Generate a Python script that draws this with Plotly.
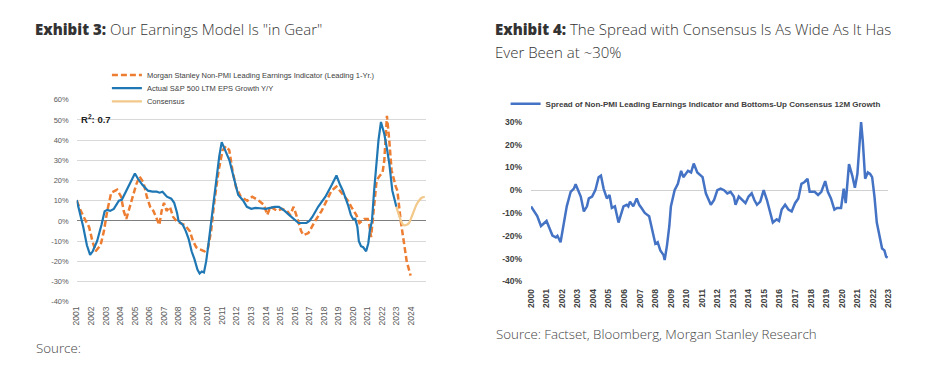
import plotly.graph_objects as go

W, H = 936, 373

# ---------------- Left chart data (Exhibit 3) ----------------
ms_years = [2001.0, 2001.28, 2001.62, 2001.85, 2002.08, 2002.3, 2002.64, 2002.87, 2003.1, 2003.37,
            2003.78, 2004.05, 2004.23, 2004.41, 2004.57, 2004.87, 2005.09, 2005.32, 2005.59, 2005.82,
            2006.05, 2006.27, 2006.5, 2006.68, 2006.84, 2007.0, 2007.18, 2007.41, 2007.63, 2007.86,
            2008.09, 2008.43, 2008.77, 2009.0, 2009.22, 2009.45, 2009.79, 2010.01, 2010.24, 2010.47,
            2010.76, 2011.03, 2011.26, 2011.49, 2011.71, 2011.94, 2012.28, 2012.73, 2013.07, 2013.53,
            2013.87, 2014.1, 2014.32, 2014.78, 2015.12, 2015.46, 2015.68, 2015.91, 2016.14, 2016.43,
            2016.59, 2016.93, 2017.16, 2017.39, 2017.84, 2018.18, 2018.52, 2018.86, 2019.2, 2019.65,
            2019.88, 2020.22, 2020.44, 2020.78, 2021.01, 2021.12, 2021.24, 2021.46, 2021.62, 2021.8,
            2022.03, 2022.15, 2022.33, 2022.49, 2022.65, 2022.94, 2023.05, 2023.28, 2023.46, 2023.69,
            2023.96]
ms_values = [10, 5, 0, -3, -10, -15, -12, -5, 5, 14,
             15.5, 12, 5, 1, 5, 12, 18, 22, 19, 12,
             7, 5, 1, -2, 5, 9, 5, 7, 2, 0,
             -1, -2, -5, -10, -13, -14, -15, -14, -5, 10,
             25, 35, 37, 35, 25, 17, 12, 10, 12, 10,
             8, 3, 7, 5, 6, 5, 3, 7, 2, -5,
             -7, -6, -3, 0, 5, 10, 15, 17, 14, 10,
             7, 3, -1, 1, 1, -2, -8, 10, 20, 22,
             24, 30, 52, 40, 25, 17, 15, 0, -10, -20,
             -27]

sp_years = [2001.0, 2001.2, 2001.45, 2001.7, 2001.92, 2002.1, 2002.4, 2002.7, 2002.92, 2003.1,
            2003.3, 2003.55, 2003.9, 2004.1, 2004.4, 2004.7, 2005.0, 2005.2, 2005.5, 2005.9,
            2006.2, 2006.5, 2006.7, 2006.9, 2007.2, 2007.5, 2007.7, 2007.9, 2008.0, 2008.3,
            2008.5, 2008.7, 2008.9, 2009.1, 2009.3, 2009.45, 2009.6, 2009.75, 2009.9, 2010.05,
            2010.25, 2010.45, 2010.6, 2010.8, 2010.97, 2011.2, 2011.5, 2011.85, 2012.1, 2012.45,
            2012.7, 2013.0, 2013.3, 2013.6, 2014.0, 2014.3, 2014.6, 2014.9, 2015.1, 2015.3,
            2015.6, 2015.9, 2016.25, 2016.5, 2016.8, 2017.0, 2017.2, 2017.6, 2018.1, 2018.55,
            2018.86, 2019.1, 2019.3, 2019.65, 2019.85, 2020.0, 2020.15, 2020.3, 2020.4, 2020.55,
            2020.7, 2020.9, 2021.05, 2021.15, 2021.3, 2021.45, 2021.6, 2021.75, 2021.92, 2022.05,
            2022.15, 2022.35, 2022.5, 2022.7, 2022.85, 2022.98]
sp_values = [10.4, 5, -3, -12, -16.8, -15, -10, -2, 4.8, 5.5,
             5, 6, 10, 10.5, 15, 19, 23.5, 21, 18, 15,
             14.5, 14.5, 14, 14.5, 12, 11, 9, 4, 0, -2,
             -5, -9, -15, -19, -24, -26, -25, -25.5, -20, -12,
             0, 12, 20, 32, 39, 35, 30, 20, 13, 10,
             7, 6, 6.5, 6.3, 6, 6.5, 7, 7, 6, 5,
             3, 1, -1, -1, -1, 0, 2, 7, 12, 18,
             22.5, 18, 15, 8, 3, 1, 1, -3, -10, -12.5,
             -13, -15, -11, -5, 0, 15, 28, 40, 49, 46,
             43, 35, 28, 15, 10, 7]

cons_years = [2022.98, 2023.15, 2023.3, 2023.46, 2023.65, 2023.85, 2024.0, 2024.19, 2024.36, 2024.53, 2024.72, 2024.93]
cons_values = [7, 3, 0, -2, -2, -1, 1.5, 5, 8, 10, 11.5, 12]

left_ticks = list(range(2001, 2025))
left_ticklabels = [str(y) for y in left_ticks]
left_yticks = [-40, -30, -20, -10, 0, 10, 20, 30, 40, 50, 60]
left_yticklabels = [f"{v}%" for v in left_yticks]

# ---------------- Right chart data (Exhibit 4) ----------------
spread_years = [2000.0, 2000.2, 2000.4, 2000.64, 2000.85, 2001.0, 2001.17, 2001.38, 2001.6, 2001.7,
                2001.9, 2002.1, 2002.3, 2002.55, 2002.76, 2002.87, 2002.97, 2003.2, 2003.4, 2003.6,
                2003.72, 2003.93, 2004.14, 2004.35, 2004.5, 2004.67, 2004.88, 2005.05, 2005.2, 2005.4,
                2005.63, 2005.8, 2005.95, 2006.16, 2006.26, 2006.37, 2006.58, 2006.8, 2006.96, 2007.11,
                2007.32, 2007.6, 2007.86, 2008.0, 2008.15, 2008.32, 2008.53, 2008.6, 2008.75, 2008.9,
                2009.0, 2009.24, 2009.45, 2009.66, 2009.8, 2009.93, 2010.1, 2010.3, 2010.47, 2010.7,
                2011.04, 2011.25, 2011.46, 2011.57, 2011.78, 2011.99, 2012.2, 2012.42, 2012.63, 2012.84,
                2013.05, 2013.16, 2013.37, 2013.58, 2013.8, 2014.0, 2014.2, 2014.37, 2014.54, 2014.75,
                2014.97, 2015.18, 2015.39, 2015.56, 2015.81, 2015.96, 2016.13, 2016.35, 2016.56, 2016.77,
                2016.99, 2017.2, 2017.4, 2017.6, 2017.79, 2017.93, 2018.25, 2018.47, 2018.68, 2018.93,
                2019.1, 2019.3, 2019.52, 2019.69, 2019.95, 2020.04, 2020.12, 2020.25, 2020.46, 2020.67,
                2020.84, 2021.0, 2021.13, 2021.24, 2021.35, 2021.5, 2021.67, 2021.82, 2021.95, 2022.1,
                2022.25, 2022.42, 2022.59, 2022.74, 2022.85, 2022.95]
spread_values = [-7.1, -9.3, -11.4, -15.7, -14.2, -13.5, -16.4, -19.9, -20.7, -20.0,
                 -22.8, -15.7, -7.1, -0.7, 0.7, 2.6, 0.7, -2.8, -9.3, -7.1,
                 -3.6, -2.8, 0.0, 5.7, 6.4, 0.7, -3.6, -2.1, -7.8, -7.1,
                 -14.2, -10.0, -7.1, -6.4, -7.1, -5.0, -7.1, -3.6, -6.4, -7.8,
                 -10.0, -11.4, -18.5, -23.5, -22.8, -26.4, -28.5, -30.6, -24.2, -15.7,
                 -7.1, 0.0, 2.8, 8.5, 5.7, 7.1, 8.5, 7.8, 11.7, 7.8,
                 5.7, -1.4, -4.3, -6.4, -4.3, 0.0, 0.7, 0.0, -1.4, -0.7,
                 -2.8, -6.4, -2.8, -4.3, -5.7, -2.8, -1.4, -4.3, -6.4, -5.0,
                 0.0, -4.3, -10.0, -14.2, -12.8, -13.5, -8.5, -6.4, -8.5, -9.3,
                 -5.7, -3.6, 2.8, 3.6, 5.0, -0.7, -0.7, -2.1, -0.7, 4.0,
                 -0.7, -3.6, -8.5, -7.8, -7.8, -2.8, 0.7, -5.7, 11.4, 6.4,
                 1.1, 7.1, 19.9, 29.9, 21.4, 5.0, 7.8, 7.1, 5.7, -2.8,
                 -14.2, -19.9, -25.6, -26.4, -29.2, -29.6]

right_ticks = list(range(2000, 2024))
right_ticklabels = [str(y) for y in right_ticks]
right_yticks = [-40, -30, -20, -10, 0, 10, 20, 30]
right_yticklabels = [f"{v}%" for v in right_yticks]

# ---------------- Layout helpers (page pixel -> paper fraction) ----------------
def px_x(p):
    return p / W

def px_y(p):
    return 1 - p / H

ORANGE = "#ED7D31"
BLUE = "#1F77B4"
TAN = "#F2C98A"
RBLUE = "#4472C4"

fig = go.Figure()

fig.add_trace(go.Scatter(
    x=ms_years, y=ms_values, mode="lines",
    name="Morgan Stanley Non-PMI Leading Earnings Indicator (Leading 1-Yr.)",
    line=dict(color=ORANGE, width=2.5, dash="6px,3px"),
    xaxis="x", yaxis="y", legend="legend"))
fig.add_trace(go.Scatter(
    x=sp_years, y=sp_values, mode="lines",
    name="Actual S&P 500 LTM EPS Growth Y/Y",
    line=dict(color=BLUE, width=2.2),
    xaxis="x", yaxis="y", legend="legend3"))
fig.add_trace(go.Scatter(
    x=cons_years, y=cons_values, mode="lines",
    name="Consensus",
    line=dict(color=TAN, width=2.2, shape="spline"),
    xaxis="x", yaxis="y", legend="legend4"))

fig.add_trace(go.Scatter(
    x=spread_years, y=spread_values, mode="lines",
    name="Spread of Non-PMI Leading Earnings Indicator and Bottoms-Up Consensus 12M Growth",
    line=dict(color=RBLUE, width=2.5),
    xaxis="x2", yaxis="y2", legend="legend2"))

tickfont_left_x = dict(family="Liberation Sans", size=8.5, color="#595959")
tickfont_left_y = dict(family="Liberation Sans", size=7.5, color="#595959")
tickfont_right = dict(family="Liberation Sans", size=8.5, color="#404040", weight="bold")
left_legend_font = dict(family="Liberation Sans", size=7.5, color="#404040")

def left_legend(ypix):
    return dict(x=px_x(103), y=px_y(ypix), xanchor="left", yanchor="middle",
                orientation="v", bgcolor="rgba(0,0,0,0)", font=left_legend_font,
                itemwidth=30)

fig.update_layout(
    width=W, height=H,
    margin=dict(l=0, r=0, t=0, b=0),
    paper_bgcolor="white", plot_bgcolor="white",
    showlegend=True,
    xaxis=dict(
        domain=[px_x(72.5), px_x(425.3)], range=[2001, 2025],
        tickmode="array", tickvals=left_ticks, ticktext=left_ticklabels,
        tickangle=-90, tickfont=tickfont_left_x, showgrid=False, zeroline=False,
        showline=False, ticks="", anchor="y", ticklabelstandoff=2),
    yaxis=dict(
        domain=[px_y(305), px_y(97.3)], range=[-40, 60],
        tickmode="array", tickvals=left_yticks, ticktext=left_yticklabels,
        tickfont=tickfont_left_y, showgrid=True, gridcolor="#D9D9D9", gridwidth=1,
        zeroline=True, zerolinecolor="#7F7F7F", zerolinewidth=1.2,
        showline=False, ticks="", anchor="x", ticklabelstandoff=7),
    xaxis2=dict(
        domain=[px_x(531.7), px_x(893)], range=[2000, 2023],
        tickmode="array", tickvals=right_ticks, ticktext=right_ticklabels,
        tickangle=-90, tickfont=tickfont_right, showgrid=False, zeroline=False,
        showline=False, ticks="", anchor="y2", ticklabelstandoff=5),
    yaxis2=dict(
        domain=[px_y(284), px_y(120)], range=[-40, 30],
        tickmode="array", tickvals=right_yticks, ticktext=right_yticklabels,
        tickfont=tickfont_right, showgrid=False,
        zeroline=True, zerolinecolor="#D0D0D0", zerolinewidth=1,
        showline=False, ticks="", anchor="x2", ticklabelstandoff=8),
    legend=left_legend(72),
    legend3=left_legend(85.5),
    legend4=left_legend(99),
    legend2=dict(
        x=px_x(506), y=px_y(101.5), xanchor="left", yanchor="middle",
        orientation="h", bgcolor="rgba(0,0,0,0)",
        font=dict(family="Liberation Sans", size=8, color="#404040", weight="bold"),
        itemwidth=30),
)

title_font = dict(family="Open Sans", size=15, color="#333333", weight=300)
bold_open = "<span style=\"font-weight:800\">{}</span>"
annotations = [
    dict(text=bold_open.format("Exhibit 3:") + " Our Earnings Model Is \"in Gear\"",
         x=px_x(28), y=px_y(25), xref="paper", yref="paper",
         xanchor="left", yanchor="middle", showarrow=False, font=title_font),
    dict(text=bold_open.format("Exhibit 4:") + " The Spread with Consensus Is As Wide As It Has",
         x=px_x(493), y=px_y(25), xref="paper", yref="paper",
         xanchor="left", yanchor="middle", showarrow=False, font=title_font),
    dict(text="Ever Been at ~30%",
         x=px_x(493), y=px_y(48), xref="paper", yref="paper",
         xanchor="left", yanchor="middle", showarrow=False, font=title_font),
    dict(text="Source:",
         x=px_x(29), y=px_y(352), xref="paper", yref="paper",
         xanchor="left", yanchor="middle", showarrow=False,
         font=dict(family="Open Sans", size=13.3, color="#444444", weight=300)),
    dict(text="Source: Factset, Bloomberg, Morgan Stanley Research",
         x=px_x(494), y=px_y(338), xref="paper", yref="paper",
         xanchor="left", yanchor="middle", showarrow=False,
         font=dict(family="Open Sans", size=13.3, color="#444444", weight=300)),
    dict(text="R<sup>2</sup>: 0.7",
         x=px_x(75), y=px_y(117), xref="paper", yref="paper",
         xanchor="left", yanchor="middle", showarrow=False,
         font=dict(family="Liberation Sans", size=9.5, color="#222222", weight="bold")),
]
fig.update_layout(annotations=annotations)

fig.write_html(
    "out.html",
    config={"displayModeBar": False},
    post_script="document.body.style.margin='0';document.body.style.overflow='hidden';",
)
